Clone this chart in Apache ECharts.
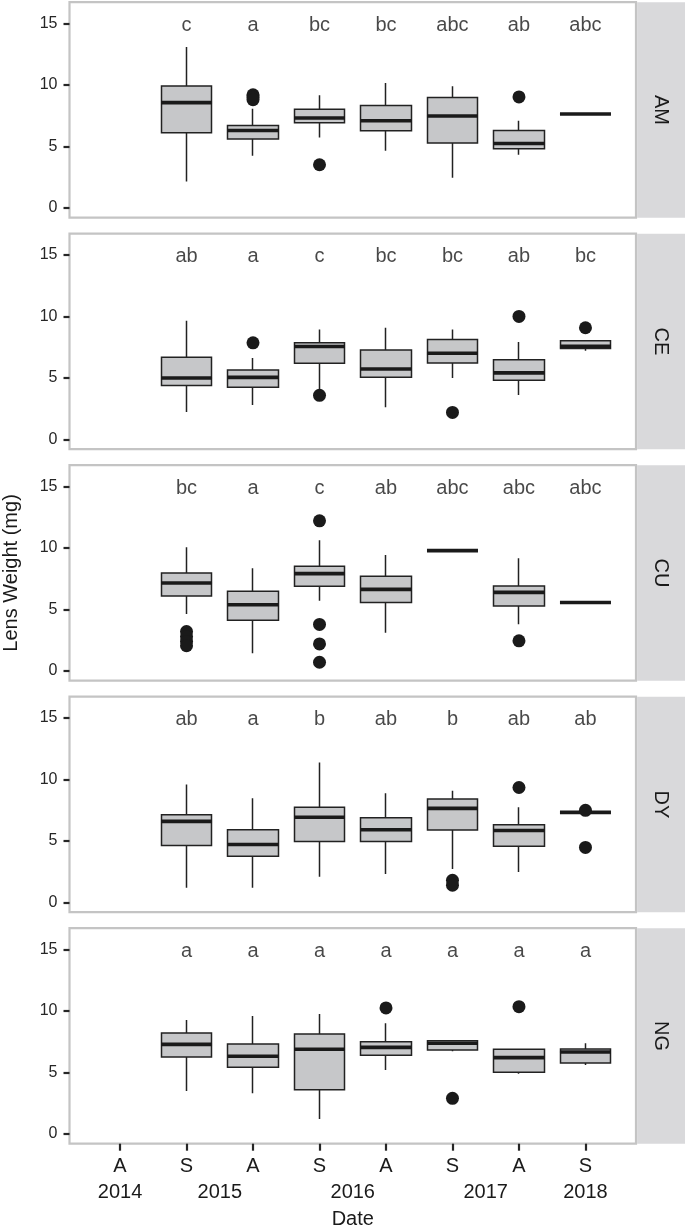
<!DOCTYPE html>
<html>
<head>
<meta charset="utf-8">
<script src="https://cdn.jsdelivr.net/npm/echarts@6/dist/echarts.min.js"></script>
<style>html,body{margin:0;padding:0;background:#fff}#c{width:685px;height:1227px}</style>
</head>
<body>
<div id="c"></div>
<script>
// ---- data ----
const seasons = ['A', 'S', 'A', 'S', 'A', 'S', 'A', 'S'];
const yearPos = [0, 1.5, 3.5, 5.5, 7];
const yearText = ['2014', '2015', '2016', '2017', '2018'];
const yTicks = [0, 5, 10, 15];
const sites = ['AM', 'CE', 'CU', 'DY', 'NG'];
const letterY = 14.85;

// box stats [min, Q1, median, Q3, max] for positions 1..7 (S2015 .. S2018)
const amBox = [[2.15, 6.11, 8.56, 9.92, 13.07], [4.24, 5.60, 6.30, 6.71, 8.07], [5.73, 6.93, 7.31, 8.02, 9.16], [4.65, 6.28, 7.09, 8.32, 10.16], [2.45, 5.27, 7.47, 8.97, 9.89], [4.32, 4.81, 5.24, 6.30, 7.09], [7.64, 7.64, 7.64, 7.64, 7.64]];
const amOut = [[2, 9.2], [2, 9.0], [2, 8.8], [3, 3.51], [6, 9.02]];
const amLetters = ['c', 'a', 'bc', 'bc', 'abc', 'ab', 'abc'];

const ceBox = [[2.23, 4.38, 5.00, 6.68, 9.65], [2.80, 4.24, 5.05, 5.65, 6.63], [4.10, 6.20, 7.55, 7.85, 8.94], [2.61, 5.05, 5.73, 7.28, 9.08], [5.00, 6.22, 7.01, 8.13, 8.94], [3.61, 4.81, 5.41, 6.47, 7.93], [7.20, 7.39, 7.58, 8.02, 8.02]];
const ceOut = [[2, 7.85], [3, 3.59], [5, 2.20], [6, 10.0], [7, 9.08]];
const ceLetters = ['ab', 'a', 'c', 'bc', 'bc', 'ab', 'bc'];

const cuBox = [[4.62, 6.09, 7.15, 7.96, 10.05], [1.44, 4.13, 5.38, 6.47, 8.34], [5.71, 6.88, 7.91, 8.51, 10.63], [3.10, 5.57, 6.63, 7.69, 9.43], [9.78, 9.78, 9.78, 9.78, 9.78], [3.80, 5.27, 6.39, 6.90, 9.16], [5.57, 5.57, 5.57, 5.57, 5.57]];
const cuOut = [[1, 3.2], [1, 2.8], [1, 2.4], [1, 2.05], [3, 12.2], [3, 3.78], [3, 2.20], [3, 0.71], [6, 2.45]];
const cuLetters = ['bc', 'a', 'c', 'ab', 'abc', 'abc', 'abc'];

const dyBox = [[1.20, 4.63, 6.59, 7.13, 9.58], [1.20, 3.76, 4.71, 5.91, 8.47], [2.10, 4.96, 6.92, 7.73, 11.38], [2.31, 4.96, 5.91, 6.89, 8.88], [2.72, 5.88, 7.65, 8.41, 9.07], [2.48, 4.57, 5.85, 6.32, 7.73], [7.32, 7.32, 7.32, 7.32, 7.32]];
const dyOut = [[5, 1.8], [5, 1.4], [6, 9.34], [7, 7.49], [7, 4.47]];
const dyLetters = ['ab', 'a', 'b', 'ab', 'b', 'ab', 'ab'];

const ngBox = [[3.49, 6.26, 7.28, 8.20, 9.26], [3.30, 5.42, 6.31, 7.31, 9.59], [1.22, 3.60, 6.88, 8.12, 9.75], [5.20, 6.39, 7.04, 7.50, 8.99], [6.72, 6.82, 7.37, 7.58, 7.58], [4.90, 5.01, 6.20, 6.88, 6.88], [5.61, 5.77, 6.66, 6.90, 7.37]];
const ngOut = [[4, 10.24], [5, 2.90], [6, 10.34]];
const ngLetters = ['a', 'a', 'a', 'a', 'a', 'a', 'a'];

const boxes = [amBox, ceBox, cuBox, dyBox, ngBox];
const outs = [amOut, ceOut, cuOut, dyOut, ngOut];
const letters = [amLetters, ceLetters, cuLetters, dyLetters, ngLetters];

// ---- layout ----
const FONT = '"Liberation Sans", Arial, Helvetica, sans-serif';
const L = 69.5, W = 566.5, T0 = 2.2, STEP = 231.5, H = 215.5;
const X_MIN = -0.76, X_MAX = 7.76, Y_MIN = -0.79, Y_MAX = 16.72;
const BOXW = 51;
const BOX_FILL = '#c6c7c9', INK = '#1a1a1a', LINE = '#222222';

// x labels: season per category, year as second line
const xLabelMap = {};
seasons.forEach((s, i) => { xLabelMap[i] = s; });
yearPos.forEach((p, k) => {
  xLabelMap[p] = (xLabelMap[p] !== undefined ? xLabelMap[p] : '') + '\n' + yearText[k];
});
const xLabelVals = Object.keys(xLabelMap).map(Number).sort((a, b) => a - b);
const xTickVals = seasons.map((s, i) => i);

const grids = [], xAxes = [], yAxes = [], series = [], graphic = [];
sites.forEach((site, i) => {
  const top = T0 + STEP * i;
  const last = i === sites.length - 1;
  grids.push({ left: L, width: W, top: top, height: H, show: true, backgroundColor: '#fff',
    borderColor: '#c4c4c4', borderWidth: 2.2, containLabel: false, outerBoundsMode: 'none' });
  xAxes.push({
    type: 'value', gridIndex: i, min: X_MIN, max: X_MAX, position: 'bottom',
    splitLine: { show: false }, axisLine: { show: false, onZero: false },
    axisTick: { show: last, customValues: xTickVals, length: 7, lineStyle: { color: '#262626', width: 2.2 } },
    axisLabel: { show: last, customValues: xLabelVals, formatter: v => (xLabelMap[v] !== undefined ? xLabelMap[v] : ''),
      fontSize: 20, fontFamily: FONT, color: INK, margin: 10, lineHeight: 26 },
    name: last ? 'Date' : '', nameLocation: 'middle', nameGap: 66,
    nameTextStyle: { fontSize: 20, fontFamily: FONT, color: INK }
  });
  yAxes.push({
    type: 'value', gridIndex: i, min: Y_MIN, max: Y_MAX, position: 'left',
    splitLine: { show: false }, axisLine: { show: false, onZero: false },
    axisTick: { show: true, customValues: yTicks, length: 6, lineStyle: { color: '#262626', width: 2.2 } },
    axisLabel: { customValues: yTicks, fontSize: 16, fontFamily: FONT, color: '#262626', margin: 12 },
    name: i === 2 ? 'Lens Weight (mg)' : '', nameLocation: 'middle', nameGap: 48,
    nameTextStyle: { fontSize: 20, fontFamily: FONT, color: INK }
  });
  // box (Q1..Q3) + whiskers (min..max) without caps
  series.push({
    type: 'candlestick', xAxisIndex: i, yAxisIndex: i, layout: 'horizontal', silent: true,
    barWidth: BOXW, barMaxWidth: BOXW,
    itemStyle: { color: BOX_FILL, color0: BOX_FILL, borderColor: LINE, borderColor0: LINE,
      borderColorDoji: LINE, borderWidth: 1.5 },
    data: boxes[i].map((b, k) => [k + 1, b[1], b[3], b[0], b[4]]), z: 2
  });
  // median bar
  series.push({
    type: 'scatter', xAxisIndex: i, yAxisIndex: i, silent: true, symbol: 'rect',
    symbolSize: [BOXW, 3.6], itemStyle: { color: INK, opacity: 1 },
    data: boxes[i].map((b, k) => [k + 1, b[2]]), z: 3
  });
  // outliers
  series.push({
    type: 'scatter', xAxisIndex: i, yAxisIndex: i, silent: true, symbol: 'circle',
    symbolSize: 13, itemStyle: { color: INK, opacity: 1 },
    data: outs[i], z: 4
  });
  // significance letters
  series.push({
    type: 'scatter', xAxisIndex: i, yAxisIndex: i, silent: true, symbolSize: 1,
    itemStyle: { color: 'rgba(0,0,0,0)' },
    label: { show: true, position: 'inside', formatter: p => letters[i][p.dataIndex],
      fontSize: 20, fontFamily: FONT, color: INK },
    data: letters[i].map((l, k) => [k + 1, letterY]), z: 5
  });
  graphic.push({ type: 'rect', shape: { x: L + W + 1.1, y: top, width: 685 - (L + W + 1.1), height: H }, style: { fill: '#d9d9db' }, silent: true });
  graphic.push({ type: 'text', x: 661, y: top + H / 2, rotation: -Math.PI / 2,
    style: { text: site, fontSize: 20, fontFamily: FONT, fill: INK, align: 'center', verticalAlign: 'middle' }, silent: true });
});

const chart = echarts.init(document.getElementById('c'), null, { renderer: 'canvas' });
chart.setOption({
  backgroundColor: '#fff',
  animation: false,
  grid: grids, xAxis: xAxes, yAxis: yAxes, series: series, graphic: graphic
});
</script>
</body>
</html>
